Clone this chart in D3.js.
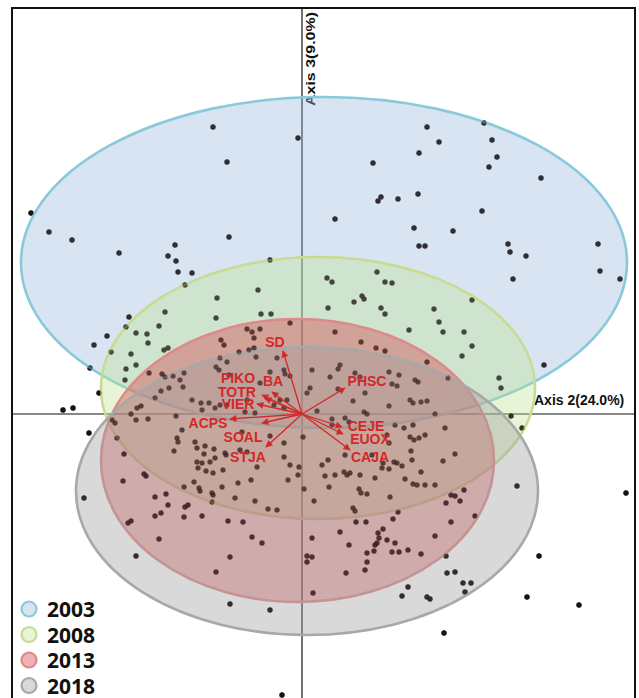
<!DOCTYPE html>
<html>
<head>
<meta charset="utf-8">
<script src="https://cdn.jsdelivr.net/npm/d3@7"></script>
<style>
  html, body { margin: 0; padding: 0; background: #fff; }
  svg { display: block; }
</style>
</head>
<body>
<svg id="chart" width="639" height="698"></svg>
<script>
// Ordination biplot: Axis 2 vs Axis 3 site scores, yearly dispersion ellipses, species vectors.

const axisTitleX = "Axis 2(24.0%)";
const axisTitleY = "Axis 3(9.0%)";

// Year groups and their ellipses (centre, semi-axes in score units)
const years = ["2003", "2008", "2013", "2018"];
const ellipseCx = [0.22, 0.16, -0.045, 0.05];
const ellipseCy = [1.515, 0.26, -0.465, -0.77];
const ellipseRx = [3.03, 2.17, 1.965, 2.31];
const ellipseRy = [1.655, 1.31, 1.415, 1.44];

// Species vectors (tips) and their label anchors
const species = ["SD", "PIKO", "BA", "TOTR", "VIER", "ACPS", "SOAL", "STJA", "PHSC", "CEJE", "EUOX", "CAJA"];
const vecX = [-0.19, -0.40, -0.30, -0.37, -0.45, -0.72, -0.40, -0.36, 0.43, 0.40, 0.41, 0.48];
const vecY = [0.63, 0.19, 0.22, 0.16, 0.10, -0.05, -0.09, -0.33, 0.26, -0.13, -0.20, -0.36];
const labX = [-0.27, -0.64, -0.29, -0.65, -0.64, -0.94, -0.59, -0.54, 0.65, 0.64, 0.68, 0.68];
const labY = [0.72, 0.36, 0.33, 0.22, 0.10, -0.09, -0.23, -0.43, 0.33, -0.12, -0.25, -0.43];

// Site scores [Axis 2, Axis 3]
const siteScores = [
  [-0.89,2.87],[-2.71,2.01],[-2.53,1.82],[-2.30,1.74],[-1.83,1.61],[-1.27,1.69],[-1.34,1.58],[-1.26,1.53],
  [-1.24,1.42],[-1.10,1.41],[-1.17,1.29],[-0.85,1.16],[-0.86,0.96],[-1.37,1.02],[-1.73,0.97],[-1.76,0.87],
  [-1.43,0.88],[-1.66,0.81],[-1.55,0.80],[-1.95,0.78],[-1.54,0.71],[-2.08,0.69],[-1.38,0.64],[-1.34,0.66],
  [-1.71,0.60],[-1.91,0.62],[-1.76,0.45],[-1.66,0.49],[-2.12,0.46],[-1.53,0.41],[-1.77,0.34],[-2.03,0.21],
  [-1.40,0.40],[-1.37,0.37],[-1.29,0.38],[-1.18,0.41],[-0.86,0.47],[-0.83,0.44],[-1.33,0.26],[-1.22,0.34],
  [-1.19,0.27],[-1.41,0.23],[-0.81,0.74],
  [-0.04,2.76],[-0.75,2.52],[-0.73,1.77],[0.71,2.51],[1.17,2.61],[1.25,2.87],[0.79,2.17],[0.76,2.13],
  [0.96,2.15],[1.16,2.20],[0.33,1.95],[1.12,1.86],[1.17,1.68],[1.23,1.68],[-0.32,1.54],[-0.44,1.24],
  [0.25,1.36],[0.30,1.32],[0.75,1.42],[0.83,1.32],[0.90,1.31],[0.52,1.12],[0.60,1.18],[0.62,1.15],
  [0.26,1.06],[0.79,1.06],[0.83,1.00],[1.07,0.84],[-0.12,0.91],[-0.41,1.00],[-0.31,1.00],[-0.55,0.85],
  [-0.50,0.82],[-0.42,0.85],[-0.48,0.76],[0.33,0.82],[0.59,0.72],[0.74,0.66],[0.83,0.63],[1.25,0.52],
  [-0.78,0.69],[-0.63,0.62],[-0.53,0.64],[-0.48,0.66],[-0.75,0.52],[-0.46,0.57],[-0.25,0.56],[0.38,0.49],
  [0.36,0.45],[0.53,0.41],[0.58,0.37],[0.87,0.42],[0.97,0.39],[0.28,0.37],[-0.18,0.44],[-0.17,0.40],
  [-0.12,0.38],[-0.42,0.31],[-0.73,0.39],[0.08,0.26],[0.05,0.21],[0.36,0.25],[0.63,0.21],[0.90,0.30],
  [0.95,0.28],[1.13,0.34],[1.16,0.32],[-0.32,0.42],
  [1.82,2.91],[1.37,2.72],[1.90,2.74],[1.95,2.57],[1.87,2.47],[2.39,2.36],[1.80,2.03],[1.51,1.83],
  [2.06,1.70],[2.08,1.62],[2.24,1.58],[2.96,1.70],[2.98,1.43],[3.18,1.35],[2.11,1.35],[1.70,1.14],
  [1.32,1.05],[1.37,0.92],[1.41,0.82],[1.62,0.82],[1.70,0.68],[1.60,0.58],[2.42,0.49],[1.97,0.36],
  [1.99,0.26],[1.46,0.36],
  [-2.39,0.04],[-2.29,0.06],[-2.13,-0.19],[-2.18,-0.84],[-1.66,-1.42],[-0.86,-1.58],[-1.43,-1.25],[-1.74,-1.09],
  [-1.71,-1.07],[-1.79,-0.67],[-1.78,-0.40],[-1.85,-0.24],[-1.90,-0.06],[-1.87,-0.09],[-1.71,0.00],[-1.66,-0.06],
  [-1.54,-0.05],[-1.65,0.06],[-1.61,0.08],[-1.58,-0.60],[-1.56,-0.62],[-1.47,-0.83],[-1.36,-0.80],[-1.34,-0.91],
  [-1.47,-1.02],[-1.41,-0.99],[-1.17,-0.93],[-1.14,-0.91],[-1.18,-1.03],[-1.00,-1.02],[-1.18,-0.73],[-1.08,-0.68],
  [-1.03,-0.74],[-1.02,-0.77],[-0.90,-0.79],[-0.89,-0.81],[-1.28,-0.37],[-1.25,-0.24],[-1.24,-0.28],[-1.07,-0.28],
  [-0.97,-0.32],[-0.98,-0.40],[-1.05,-0.48],[-1.04,-0.54],[-0.96,-0.57],[-0.92,-0.48],[-0.87,-0.44],[-0.88,-0.35],
  [-1.26,-0.02],[-1.20,-0.16],[-1.10,0.14],[-1.01,0.11],[-0.93,0.11],[-0.87,0.06],[-0.82,0.09],[-1.47,0.16],
  [-0.90,-0.88],
  [0.51,0.13],[0.87,0.08],[1.08,0.14],[1.19,0.12],[1.25,0.13],[0.62,0.02],[0.65,0.00],[0.15,0.03],
  [-0.28,0.09],[-0.18,0.06],[-0.47,0.01],[-0.57,0.02],[0.30,-0.05],[0.30,-0.11],[0.43,-0.04],[0.47,-0.08],
  [0.93,-0.11],[1.02,-0.14],[1.08,-0.23],[1.12,-0.26],[1.17,-0.24],[1.23,-0.21],[0.87,-0.29],[0.43,-0.41],
  [0.26,-0.46],[-0.32,-0.22],[-0.18,-0.29],[0.01,-0.23],[-0.03,-0.53],[-0.04,-0.61],[-0.12,-0.51],[-0.18,-0.43],
  [-0.45,-0.53],[-0.55,-0.38],[-0.62,-0.36],[-0.76,-0.41],[-0.64,-0.69],[-0.51,-0.66],[-0.80,-0.73],[-0.67,-0.84],
  [-0.47,-0.87],[-0.34,-0.95],[-0.25,-0.96],[0.02,-0.75],[-0.14,-0.66],[0.12,-0.87],[0.23,-0.62],[0.27,-0.73],
  [0.33,-0.61],[0.42,-0.58],[0.45,-0.61],[0.48,-0.59],[0.73,-0.64],[0.57,-0.75],[0.59,-0.79],[0.65,-0.80],
  [0.88,-0.83],[0.80,-0.54],[0.87,-0.55],[0.92,-0.48],[0.95,-0.49],[1.00,-0.52],[1.10,-0.46],[1.09,-0.37],
  [1.03,-0.65],[1.11,-0.70],[1.15,-0.71],[1.19,-0.58],[1.23,-0.71],[0.51,-0.94],[0.53,-0.97],[0.96,-0.98],
  [0.91,-1.05],[0.54,-1.08],[0.64,-1.08],[-0.74,-1.07],[-0.59,-1.08],[-0.50,-1.23],[-0.40,-1.29],[-0.72,-1.43],
  [0.10,-1.24],[0.38,-1.18],[0.47,-1.31],[0.76,-1.19],[0.81,-1.15],[0.77,-1.24],[0.75,-1.29],[0.73,-1.31],
  [0.85,-1.26],[0.93,-1.29],[0.72,-1.37],[0.65,-1.39],[0.65,-1.48],[0.63,-1.56],[0.90,-1.38],[0.97,-1.38],
  [1.06,-1.36],[1.19,-1.40],[0.44,-1.59],[0.05,-1.42],[0.10,-1.43],[0.05,-1.48],[0.11,-1.79],[-0.72,-1.90],
  [-0.32,-1.96],[1.06,-1.73],[1.00,-1.82],[1.25,-1.83],[1.28,-1.85],[-0.20,-2.81],
  [2.09,-0.02],[2.20,-0.14],[1.33,0.00],[1.43,-0.14],[1.53,-0.40],[1.41,-0.47],[1.33,-0.71],[1.49,-0.81],
  [1.53,-0.82],[1.62,-0.76],[1.44,-0.89],[1.58,-0.87],[1.73,-1.02],[1.49,-1.08],[1.33,-1.22],[1.44,-1.42],
  [1.45,-1.59],[1.53,-1.58],[1.61,-1.69],[1.69,-1.69],[1.63,-1.78],[2.15,-0.72],[3.24,-0.79],[2.37,-1.42],
  [2.25,-1.83],[2.77,-1.91],[1.42,-2.19],
  [-0.82,0.56],[-0.75,0.09],[-0.55,0.14],[-0.22,0.14],[-0.15,0.14],[1.11,0.11],[-1.05,-0.34],[-1.00,-0.49],
  [-0.77,-0.39],[-0.89,-0.59],[-0.79,-0.56],[-0.60,-0.18],[0.20,-0.51],[0.58,-0.61],[0.81,-0.49],[1.11,-0.11],
  [0.85,-0.21],[0.70,-0.41],[0.10,0.44],[-1.00,0.04]
];

// Styling per year
const fillColor = ["rgba(150,180,222,0.36)", "rgba(188,226,140,0.36)", "rgba(212,62,70,0.40)", "rgba(160,160,160,0.40)"];
const strokeColor = ["#88c9da", "#c7dc92", "#dc8a8a", "#a8a8a8"];
const vecColor = "#d22828";

const svg = d3.select("#chart");
const W = 639, H = 698;
const frame = { left: 12, top: 8, right: 635, bottom: 704 };

const x = d3.scaleLinear().domain([-2.9, 3.33]).range([frame.left, frame.right]);
const y = d3.scaleLinear().domain([-2.9, 4.06]).range([frame.bottom, frame.top]);

svg.append("rect").attr("width", W).attr("height", H).attr("fill", "#fff");

// Zero axes
svg.append("line")
  .attr("x1", frame.left).attr("x2", frame.right)
  .attr("y1", y(0)).attr("y2", y(0))
  .attr("stroke", "#111").attr("stroke-width", 1.2);
svg.append("line")
  .attr("x1", x(0)).attr("x2", x(0))
  .attr("y1", frame.top).attr("y2", H)
  .attr("stroke", "#111").attr("stroke-width", 1.2);

// Axis titles
svg.append("text")
  .attr("x", x(0) + 232).attr("y", y(0) - 9)
  .attr("font-family", "Liberation Sans, Arial, sans-serif")
  .attr("font-weight", "bold").attr("font-size", 14)
  .attr("fill", "#111")
  .text(axisTitleX);
svg.append("text")
  .attr("transform", `translate(${x(0) + 13},${frame.top + 98}) rotate(-90)`)
  .attr("font-family", "Liberation Sans, Arial, sans-serif")
  .attr("font-weight", "bold").attr("font-size", 13)
  .attr("textLength", 94).attr("lengthAdjust", "spacingAndGlyphs")
  .attr("fill", "#111")
  .text(axisTitleY);

// Year ellipses
const px = x(1) - x(0);
const py = y(0) - y(1);
const ellipses = svg.append("g");

// Site points sit under the translucent fills
const points = svg.append("g");
points.selectAll("circle")
  .data(siteScores)
  .join("circle")
  .attr("cx", d => x(d[0]))
  .attr("cy", d => y(d[1]))
  .attr("r", 2.7)
  .attr("fill", "#0d0d0d");

ellipses.raise();
ellipses.selectAll("ellipse")
  .data(years)
  .join("ellipse")
  .attr("cx", (d, i) => x(ellipseCx[i]))
  .attr("cy", (d, i) => y(ellipseCy[i]))
  .attr("rx", (d, i) => ellipseRx[i] * px)
  .attr("ry", (d, i) => ellipseRy[i] * py)
  .attr("fill", (d, i) => fillColor[i])
  .attr("stroke", (d, i) => strokeColor[i])
  .attr("stroke-width", 2.6);

// A second, faint pass keeps the points dark where several fills stack up
svg.append("g").selectAll("circle")
  .data(siteScores)
  .join("circle")
  .attr("cx", d => x(d[0]))
  .attr("cy", d => y(d[1]))
  .attr("r", 2.5)
  .attr("fill", "#2a1414")
  .attr("fill-opacity", 0.55);

// Species vectors
svg.append("defs").append("marker")
  .attr("id", "head")
  .attr("viewBox", "0 0 10 10")
  .attr("refX", 9).attr("refY", 5)
  .attr("markerUnits", "userSpaceOnUse")
  .attr("markerWidth", 8).attr("markerHeight", 7)
  .attr("orient", "auto")
  .append("path")
  .attr("d", "M0,0 L10,5 L0,10 z")
  .attr("fill", vecColor);

svg.append("g").selectAll("line")
  .data(species)
  .join("line")
  .attr("x1", x(0)).attr("y1", y(0))
  .attr("x2", (d, i) => x(vecX[i]))
  .attr("y2", (d, i) => y(vecY[i]))
  .attr("stroke", vecColor)
  .attr("stroke-width", 1.3)
  .attr("marker-end", "url(#head)");

svg.append("g").selectAll("text")
  .data(species)
  .join("text")
  .attr("x", (d, i) => x(labX[i]))
  .attr("y", (d, i) => y(labY[i]) + 5)
  .attr("text-anchor", "middle")
  .attr("font-family", "Liberation Sans, Arial, sans-serif")
  .attr("font-weight", "bold").attr("font-size", 14)
  .attr("fill", vecColor)
  .text(d => d);

// Legend
const legend = svg.append("g").attr("transform", "translate(29,609)");
const rowH = 25.5;
legend.selectAll("circle")
  .data(years)
  .join("circle")
  .attr("cx", 0)
  .attr("cy", (d, i) => i * rowH)
  .attr("r", 7.5)
  .attr("fill", (d, i) => fillColor[i])
  .attr("stroke", (d, i) => strokeColor[i])
  .attr("stroke-width", 2.2);
legend.selectAll("text")
  .data(years)
  .join("text")
  .attr("x", 18)
  .attr("y", (d, i) => i * rowH + 8)
  .attr("font-family", "Noto Sans, Open Sans, sans-serif")
  .attr("font-weight", "bold").attr("font-size", 21)
  .attr("fill", "#111")
  .text(d => d);

// Plot frame
svg.append("rect")
  .attr("x", frame.left).attr("y", frame.top)
  .attr("width", frame.right - frame.left)
  .attr("height", frame.bottom - frame.top)
  .attr("fill", "none")
  .attr("stroke", "#111").attr("stroke-width", 2);
</script>
</body>
</html>
